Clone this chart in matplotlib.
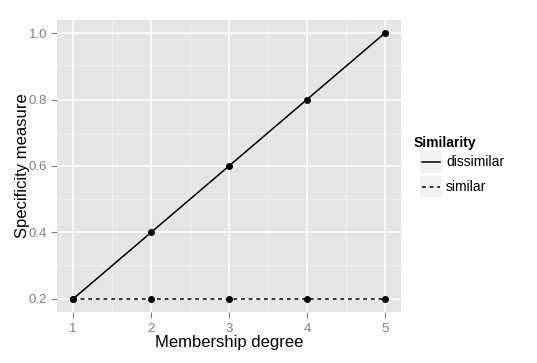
import matplotlib
matplotlib.use("Agg")
import matplotlib.pyplot as plt
from matplotlib.lines import Line2D
from matplotlib.patches import Rectangle

plt.rcParams["font.family"] = ["Liberation Sans", "DejaVu Sans"]

# data
membership = [1, 2, 3, 4, 5]
dissimilar = [0.2, 0.4, 0.6, 0.8, 1.0]
similar = [0.2, 0.2, 0.2, 0.2, 0.2]
xticks = [1, 2, 3, 4, 5]
yticks = [0.2, 0.4, 0.6, 0.8, 1.0]

fig = plt.figure(figsize=(5.37, 3.63), dpi=100)
ax = fig.add_axes([0.1069, 0.1397, 0.639, 0.806])
ax.set_facecolor("#E5E5E5")

# ggplot-like grid
for xm in [1.5, 2.5, 3.5, 4.5]:
    ax.axvline(xm, color="#F2F2F2", lw=0.6, zorder=0)
for ym in [0.3, 0.5, 0.7, 0.9]:
    ax.axhline(ym, color="#F2F2F2", lw=0.6, zorder=0)
for xv in xticks:
    ax.axvline(xv, color="white", lw=1.2, zorder=0.5)
for yv in yticks:
    ax.axhline(yv, color="white", lw=1.2, zorder=0.5)

ax.plot(membership, dissimilar, color="black", lw=1.1, ls="-", marker="o", ms=4, zorder=3)
ax.plot(membership, similar, color="black", lw=1.1, ls=(0, (2.5, 2.5)), marker="o", ms=4, zorder=3)

ax.set_xlim(0.8, 5.2)
ax.set_ylim(0.16, 1.04)
ax.set_xticks(xticks)
ax.set_yticks(yticks)
ax.set_xticklabels([str(v) for v in xticks])
ax.set_yticklabels([f"{v:.1f}" for v in yticks])
ax.tick_params(colors="#7F7F7F", labelcolor="#7F7F7F", labelsize=9.5, length=4, width=0.8)
for s in ax.spines.values():
    s.set_visible(False)

ax.set_xlabel("Membership degree", fontsize=12, labelpad=0)
ax.set_ylabel("Specificity measure", fontsize=12, labelpad=-1)

# legend drawn by hand in figure pixels
W, H = 537, 363
def fx(px):
    return px / W
def fy(py):
    return 1 - py / H

fig.text(fx(414), fy(143), "Similarity", fontsize=10, fontweight="bold", va="center", ha="left")
for i, (lab, ls) in enumerate([("dissimilar", "-"), ("similar", (0, (2.5, 2.5)))]):
    yc = 162 + i * 25
    fig.patches.append(Rectangle((fx(420), fy(yc + 11)), fx(22), 22 / H,
                                 transform=fig.transFigure, facecolor="#F2F2F2", edgecolor="none"))
    fig.lines.append(Line2D([fx(422), fx(440)], [fy(yc), fy(yc)], transform=fig.transFigure,
                            color="black", lw=1.1, ls=ls))
    fig.text(fx(446), fy(yc), lab, fontsize=10, va="center", ha="left")

fig.savefig("out.png", dpi=100)
